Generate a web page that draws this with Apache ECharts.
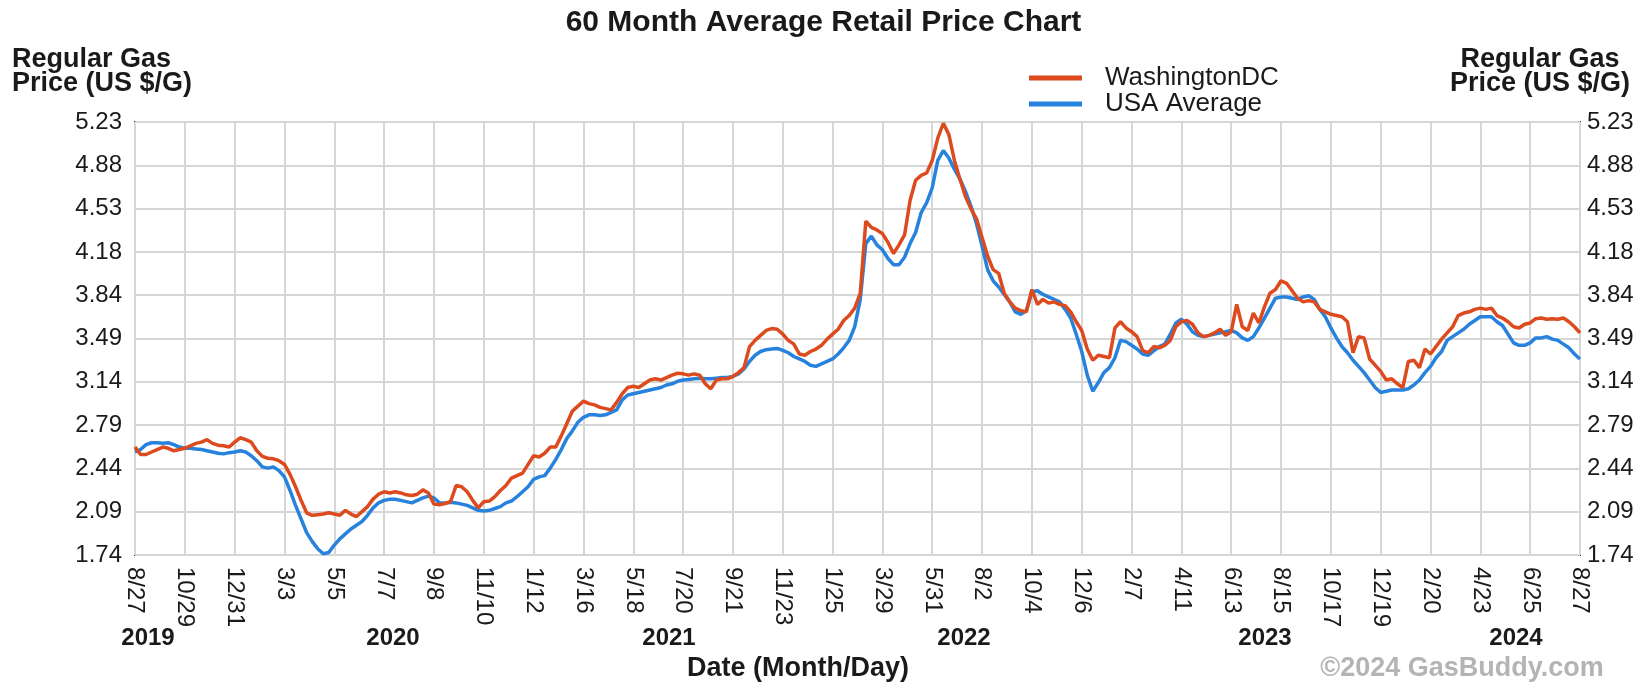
<!DOCTYPE html>
<html>
<head>
<meta charset="utf-8">
<title>60 Month Average Retail Price Chart</title>
<script src="https://cdn.jsdelivr.net/npm/echarts@6/dist/echarts.min.js"></script>
<style>
  html, body { margin: 0; padding: 0; background: #fff; }
  #chart { width: 1647px; height: 688px; }
</style>
</head>
<body>
<div id="chart"></div>
<script>
  // tick labels (one every 63 days, starting 8/27/2019)
  var xTickLabels = ['8/27', '10/29', '12/31', '3/3', '5/5', '7/7', '9/8', '11/10', '1/12', '3/16',
    '5/18', '7/20', '9/21', '11/23', '1/25', '3/29', '5/31', '8/2', '10/4', '12/6',
    '2/7', '4/11', '6/13', '8/15', '10/17', '12/19', '2/20', '4/23', '6/25', '8/27'];
  var yTickLabels = ['1.74', '2.09', '2.44', '2.79', '3.14', '3.49', '3.84', '4.18', '4.53', '4.88', '5.23'];
  var yearLabels = ['2019', '2020', '2021', '2022', '2023', '2024'];

  // weekly prices, first sample on 8/27/2019
  var dcPrices = [
    2.61, 2.55, 2.55, 2.57, 2.59, 2.61, 2.60, 2.58, 2.59, 2.60,
    2.62, 2.64, 2.65, 2.67, 2.64, 2.625, 2.62, 2.61, 2.65, 2.685,
    2.67, 2.65, 2.58, 2.535, 2.52, 2.515, 2.50, 2.47, 2.39, 2.29,
    2.18, 2.08, 2.06, 2.065, 2.07, 2.08, 2.07, 2.06, 2.10, 2.07,
    2.05, 2.09, 2.13, 2.19, 2.23, 2.25, 2.24, 2.25, 2.24, 2.225,
    2.22, 2.23, 2.265, 2.24, 2.15, 2.145, 2.155, 2.17, 2.30, 2.29,
    2.25, 2.18, 2.12, 2.17, 2.175, 2.21, 2.26, 2.30, 2.36, 2.38,
    2.40, 2.47, 2.54, 2.53, 2.56, 2.61, 2.61, 2.70, 2.80, 2.90,
    2.94, 2.98, 2.96, 2.95, 2.93, 2.92, 2.91, 2.97, 3.04, 3.09,
    3.10, 3.09, 3.12, 3.15, 3.16, 3.15, 3.17, 3.19, 3.205, 3.20,
    3.19, 3.20, 3.19, 3.12, 3.08, 3.15, 3.16, 3.16, 3.18, 3.21,
    3.25, 3.42, 3.47, 3.51, 3.55, 3.565, 3.56, 3.52, 3.47, 3.44,
    3.36, 3.35, 3.38, 3.40, 3.43, 3.48, 3.52, 3.56, 3.63, 3.67,
    3.73, 3.85, 4.43, 4.38, 4.36, 4.33, 4.26, 4.17, 4.24, 4.32,
    4.60, 4.76, 4.80, 4.82, 4.92, 5.10, 5.22, 5.13, 4.92, 4.77,
    4.63, 4.53, 4.45, 4.30, 4.15, 4.04, 4.01, 3.85, 3.78, 3.73,
    3.71, 3.70, 3.88, 3.76, 3.80, 3.77, 3.78, 3.76, 3.75, 3.70,
    3.62, 3.55, 3.40, 3.31, 3.35, 3.34, 3.33, 3.57, 3.62, 3.57,
    3.54, 3.50, 3.39, 3.37, 3.42, 3.41, 3.43, 3.47, 3.58, 3.62,
    3.63, 3.60, 3.53, 3.50, 3.51, 3.53, 3.56, 3.51, 3.54, 3.76,
    3.58, 3.55, 3.69, 3.61, 3.74, 3.85, 3.88, 3.95, 3.93, 3.87,
    3.81, 3.78, 3.79, 3.78, 3.72, 3.70, 3.68, 3.67, 3.66, 3.62,
    3.37, 3.50, 3.49, 3.32, 3.27, 3.22, 3.15, 3.16, 3.12, 3.09,
    3.30, 3.31, 3.25, 3.40, 3.36, 3.42, 3.48, 3.53, 3.58, 3.67,
    3.69, 3.70, 3.72, 3.73, 3.72, 3.73, 3.67, 3.65, 3.62, 3.58,
    3.57, 3.60, 3.61, 3.645, 3.65, 3.64, 3.645, 3.64, 3.65, 3.62,
    3.58, 3.53
  ];
  var usPrices = [
    2.57, 2.59, 2.63, 2.645, 2.645, 2.64, 2.645, 2.63, 2.61, 2.60,
    2.60, 2.595, 2.59, 2.58, 2.57, 2.56, 2.555, 2.565, 2.57, 2.58,
    2.57, 2.54, 2.50, 2.45, 2.44, 2.45, 2.42, 2.37, 2.26, 2.14,
    2.03, 1.92, 1.85, 1.79, 1.75, 1.76, 1.82, 1.87, 1.91, 1.95,
    1.98, 2.01, 2.06, 2.12, 2.16, 2.18, 2.19, 2.19, 2.18, 2.17,
    2.16, 2.18, 2.20, 2.215, 2.20, 2.16, 2.16, 2.165, 2.16, 2.15,
    2.14, 2.12, 2.10, 2.095, 2.10, 2.115, 2.13, 2.16, 2.175, 2.21,
    2.25, 2.29, 2.35, 2.37, 2.38, 2.44, 2.51, 2.59, 2.68, 2.74,
    2.81, 2.85, 2.87, 2.87, 2.865, 2.87, 2.89, 2.91, 2.99, 3.03,
    3.04, 3.05, 3.06, 3.07, 3.08, 3.09, 3.11, 3.12, 3.14, 3.15,
    3.155, 3.16, 3.165, 3.16, 3.16, 3.165, 3.17, 3.17, 3.18, 3.20,
    3.24, 3.30, 3.35, 3.38, 3.395, 3.40, 3.405, 3.39, 3.37, 3.34,
    3.32, 3.30, 3.27, 3.26, 3.28, 3.30, 3.32, 3.36, 3.41, 3.47,
    3.58, 3.80, 4.25, 4.31, 4.24, 4.20, 4.13, 4.08, 4.08, 4.14,
    4.25, 4.34, 4.50, 4.58, 4.70, 4.92, 5.00, 4.94, 4.85, 4.77,
    4.67, 4.55, 4.41, 4.23, 4.04, 3.95, 3.90, 3.84, 3.78, 3.70,
    3.68, 3.71, 3.86, 3.87, 3.84, 3.82, 3.80, 3.78, 3.72, 3.65,
    3.52, 3.38, 3.19, 3.06, 3.13, 3.21, 3.25, 3.33, 3.47, 3.46,
    3.43, 3.40, 3.36, 3.35, 3.385, 3.42, 3.44, 3.52, 3.61, 3.64,
    3.60, 3.54, 3.51, 3.50, 3.51, 3.52, 3.53, 3.54, 3.55, 3.53,
    3.49, 3.47, 3.50, 3.57, 3.65, 3.73, 3.81, 3.82, 3.82, 3.81,
    3.80, 3.82, 3.83, 3.80, 3.72, 3.66, 3.57, 3.49, 3.42, 3.37,
    3.31, 3.26, 3.21, 3.15, 3.09, 3.05, 3.06, 3.07, 3.07, 3.07,
    3.08, 3.11, 3.15, 3.21, 3.26, 3.33, 3.38, 3.47, 3.50, 3.53,
    3.56, 3.60, 3.63, 3.66, 3.66, 3.66, 3.62, 3.59, 3.52, 3.45,
    3.43, 3.43, 3.45, 3.49, 3.49, 3.50, 3.48, 3.47, 3.44, 3.41,
    3.36, 3.32
  ];

  var sampleDays = 7;
  var tickDays = 63;
  var spanDays = 1827;
  var yMin = 1.74, yMax = 5.23;
  var yStep = (yMax - yMin) / (yTickLabels.length - 1);
  var yTickValues = yTickLabels.map(function (s, k) { return yMin + k * yStep; });

  var font = '"Liberation Sans", Arial, sans-serif';
  var ink = '#1a1a1a';
  var red = '#DC4A1E', blue = '#2782DD';

  function toPoints(arr) {
    return arr.map(function (v, i) { return [i * sampleDays, v]; });
  }
  function yLabel(v) {
    return yTickLabels[Math.round((v - yMin) / yStep)];
  }
  function label(text, x, y, size, align, color) {
    return {
      type: 'text', x: x, y: y,
      style: { text: text, font: 'bold ' + size + 'px ' + font, fill: color || ink, align: align, verticalAlign: 'middle' }
    };
  }

  var chart = echarts.init(document.getElementById('chart'));

  // year captions under the date labels, placed at their pixel centres
  var yearX = [148, 393, 669, 964, 1265, 1516];
  var graphics = yearLabels.map(function (y, k) { return label(y, yearX[k], 638, 24, 'center'); });
  graphics.push(
    label('Date (Month/Day)', 798, 669, 27, 'center'),
    label('©2024 GasBuddy.com', 1462, 669, 27, 'center', '#b4b4b4'),
    label('Regular Gas', 12, 60, 27, 'left'),
    label('Price (US $/G)', 12, 84, 27, 'left'),
    label('Regular Gas', 1540, 60, 27, 'center'),
    label('Price (US $/G)', 1540, 84, 27, 'center')
  );

  var yAxisBase = function (pos, showSplit) {
    return {
      type: 'value',
      position: pos,
      min: yMin,
      max: yMax,
      axisLine: { show: false },
      axisTick: { show: false, customValues: yTickValues },
      splitLine: { show: showSplit, lineStyle: { color: '#d6d6d6', width: 2 } },
      axisLabel: {
        customValues: yTickValues,
        formatter: yLabel,
        margin: pos === 'left' ? 13 : 7,
        color: ink,
        fontSize: 24,
        fontFamily: font
      }
    };
  };

  chart.setOption({
    animation: false,
    backgroundColor: '#fff',
    title: {
      text: '60 Month Average Retail Price Chart',
      left: 'center',
      top: 3,
      textStyle: { fontSize: 30, fontWeight: 'bold', color: ink, fontFamily: font }
    },
    legend: {
      data: ['WashingtonDC', 'USA Average'],
      orient: 'vertical',
      left: 1024,
      top: 60,
      icon: 'rect',
      itemWidth: 53,
      itemHeight: 5,
      itemGap: 0,
      textStyle: { fontSize: 26, lineHeight: 25, color: ink, fontFamily: font, padding: [0, 0, 0, 18] }
    },
    grid: {
      left: 135, right: 67, top: 122, bottom: 133,
      show: true, borderColor: '#333', borderWidth: 2,
      containLabel: false
    },
    xAxis: {
      type: 'value',
      min: 0,
      max: spanDays,
      interval: tickDays,
      axisLine: { show: false },
      axisTick: { show: false },
      splitLine: { show: true, lineStyle: { color: '#d6d6d6', width: 2 } },
      axisLabel: {
        rotate: -90,
        margin: 12,
        color: ink,
        fontSize: 24,
        fontFamily: font,
        formatter: function (v) { return xTickLabels[Math.round(v / tickDays)]; }
      }
    },
    yAxis: [yAxisBase('left', true), yAxisBase('right', false)],
    graphic: graphics,
    series: [
      {
        name: 'USA Average', type: 'line', data: toPoints(usPrices),
        showSymbol: false, symbol: 'none', z: 2,
        lineStyle: { color: blue, width: 3.5 }, itemStyle: { color: blue }
      },
      {
        name: 'WashingtonDC', type: 'line', data: toPoints(dcPrices),
        showSymbol: false, symbol: 'none', z: 3,
        lineStyle: { color: red, width: 3.5 }, itemStyle: { color: red }
      }
    ]
  });
</script>
</body>
</html>
